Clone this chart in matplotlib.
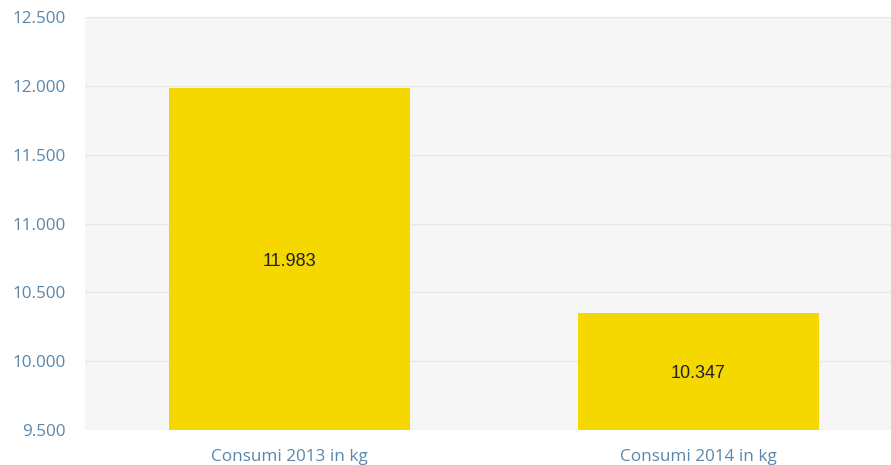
import matplotlib

matplotlib.use("Agg")
import matplotlib.pyplot as plt
from matplotlib.ticker import FuncFormatter

categories = ["Consumi 2013 in kg", "Consumi 2014 in kg"]
values = [11983, 10347]
y_ticks = [9500, 10000, 10500, 11000, 11500, 12000, 12500]


def it_fmt(v, pos=None):
    # Italian style thousands separator
    return f"{int(round(v)):,}".replace(",", ".")


fig = plt.figure(figsize=(8.91, 4.65), dpi=100)
# plot area runs a little past the right edge of the image
ax = fig.add_axes([85 / 891, 35 / 465, 818 / 891, 413 / 465])
ax.set_facecolor("#f6f6f6")

x = range(len(categories))
bars = ax.bar(x, values, width=0.59, color="#f5d800", zorder=3)
for b, v in zip(bars, values):
    ax.text(b.get_x() + b.get_width() / 2, (9500 + v) / 2, it_fmt(v),
            ha="center", va="center_baseline", fontsize=13, color="#222222",
            family="Liberation Sans", zorder=4)

ax.set_xlim(-0.5, len(categories) - 0.5)
ax.set_ylim(y_ticks[0], y_ticks[-1])
ax.set_yticks(y_ticks)
ax.yaxis.set_major_formatter(FuncFormatter(it_fmt))
ax.set_xticks(list(x))
ax.set_xticklabels(categories)
ax.grid(axis="y", color="#e8e8e8", linewidth=1, zorder=0)
for s in ax.spines.values():
    s.set_visible(False)
ax.tick_params(axis="y", length=0, pad=14, labelsize=12.3, labelcolor="#5a87ab")
ax.tick_params(axis="x", length=0, pad=14, labelsize=12.3, labelcolor="#5a87ab")
for lbl in ax.get_xticklabels() + ax.get_yticklabels():
    lbl.set_family("Open Sans")

fig.savefig("out.png", dpi=100)
